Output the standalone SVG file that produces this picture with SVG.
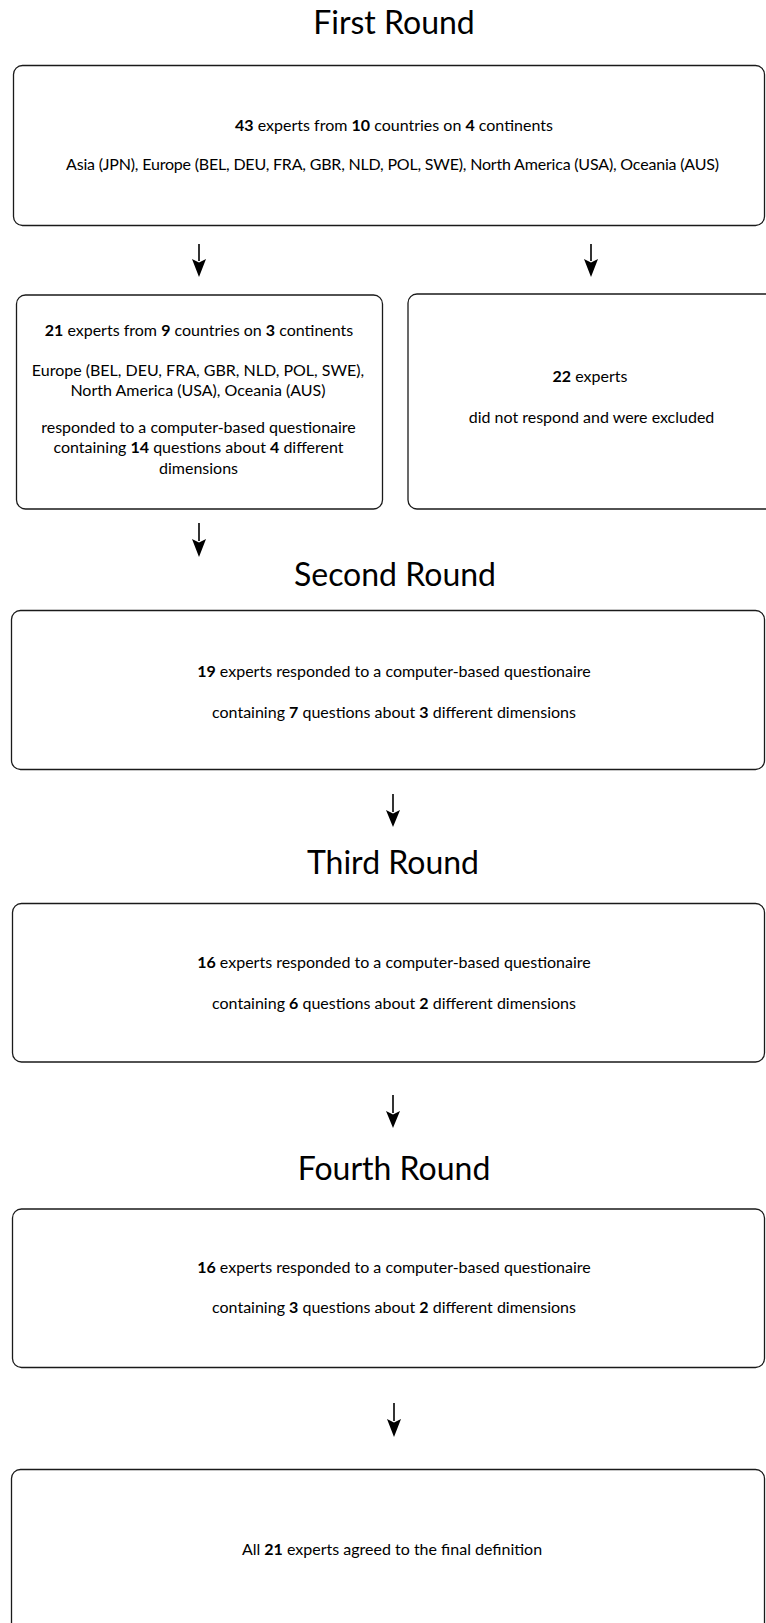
<svg xmlns="http://www.w3.org/2000/svg" width="766" height="1623" viewBox="0 0 766 1623">
<style>
.box{fill:#fff;stroke:#1a1a1a;stroke-width:1.3}
.t{font-family:Lato,"Open Sans","Liberation Sans",sans-serif;fill:#000;text-anchor:middle}
.title{font-size:32px}
.body{font-size:16px}
.b{font-weight:bold}
.arrow{stroke:#000;stroke-width:1.6;fill:none}
.head{fill:#000}
</style>
<rect width="766" height="1623" fill="#fff"/>
<g id="connectors">
<line class="arrow" x1="199" y1="244" x2="199" y2="261"/>
<path class="head" d="M192,259 L199,262.5 L206,259 L199,277 Z"/>
<line class="arrow" x1="591" y1="244" x2="591" y2="261"/>
<path class="head" d="M584,259 L591,262.5 L598,259 L591,277 Z"/>
<line class="arrow" x1="199" y1="523" x2="199" y2="541"/>
<path class="head" d="M192,539 L199,542.5 L206,539 L199,557 Z"/>
<line class="arrow" x1="393" y1="794" x2="393" y2="812"/>
<path class="head" d="M386,810 L393,813.5 L400,810 L393,827 Z"/>
<line class="arrow" x1="393" y1="1095" x2="393" y2="1113"/>
<path class="head" d="M386,1111 L393,1114.5 L400,1111 L393,1128 Z"/>
<line class="arrow" x1="394" y1="1403" x2="394" y2="1421"/>
<path class="head" d="M387,1419 L394,1422.5 L401,1419 L394,1437 Z"/>
</g>
<g id="title1"><text class="t title" x="394" y="33.5">First Round</text></g>
<g id="round1">
<rect class="box" x="13.5" y="65.5" width="751" height="160" rx="9"/>
<text class="t body" x="394" y="130.5"><tspan class="b">43</tspan> experts from <tspan class="b">10</tspan> countries on <tspan class="b">4</tspan> continents</text>
<text class="t body" x="392.5" y="169.5" textLength="653">Asia (JPN), Europe (BEL, DEU, FRA, GBR, NLD, POL, SWE), North America (USA), Oceania (AUS)</text>
</g>
<g id="responded1">
<rect class="box" x="16.5" y="295" width="366" height="214" rx="9"/>
<text class="t body" x="199" y="336"><tspan class="b">21</tspan> experts from <tspan class="b">9</tspan> countries on <tspan class="b">3</tspan> continents</text>
<text class="t body" x="198" y="375.5">Europe (BEL, DEU, FRA, GBR, NLD, POL, SWE),</text>
<text class="t body" x="198" y="396">North America (USA), Oceania (AUS)</text>
<text class="t body" x="198.5" y="432.5">responded to a computer-based questionaire</text>
<text class="t body" x="198.5" y="453">containing <tspan class="b">14</tspan> questions about <tspan class="b">4</tspan> different</text>
<text class="t body" x="198.5" y="474">dimensions</text>
</g>
<g id="excluded1">
<rect class="box" x="408" y="294" width="370" height="215" rx="9"/>
<text class="t body" x="590" y="381.5"><tspan class="b">22</tspan> experts</text>
<text class="t body" x="591.5" y="423">did not respond and were excluded</text>
</g>
<g id="title2"><text class="t title" x="395" y="585.5">Second Round</text></g>
<g id="round2">
<rect class="box" x="11.5" y="610.5" width="753" height="159" rx="9"/>
<text class="t body" x="394" y="676.5"><tspan class="b">19</tspan> experts responded to a computer-based questionaire</text>
<text class="t body" x="394" y="717.5">containing <tspan class="b">7</tspan> questions about <tspan class="b">3</tspan> different dimensions</text>
</g>
<g id="title3"><text class="t title" x="393" y="873.5">Third Round</text></g>
<g id="round3">
<rect class="box" x="12.5" y="903.5" width="752" height="158.5" rx="9"/>
<text class="t body" x="394" y="967.5"><tspan class="b">16</tspan> experts responded to a computer-based questionaire</text>
<text class="t body" x="394" y="1009">containing <tspan class="b">6</tspan> questions about <tspan class="b">2</tspan> different dimensions</text>
</g>
<g id="title4"><text class="t title" x="394" y="1179.5">Fourth Round</text></g>
<g id="round4">
<rect class="box" x="12.5" y="1209" width="752" height="158.5" rx="9"/>
<text class="t body" x="394" y="1272.5"><tspan class="b">16</tspan> experts responded to a computer-based questionaire</text>
<text class="t body" x="394" y="1313">containing <tspan class="b">3</tspan> questions about <tspan class="b">2</tspan> different dimensions</text>
</g>
<g id="final">
<rect class="box" x="11.5" y="1469.5" width="753" height="200" rx="9"/>
<text class="t body" x="392" y="1555">All <tspan class="b">21</tspan> experts agreed to the final definition</text>
</g>
</svg>
